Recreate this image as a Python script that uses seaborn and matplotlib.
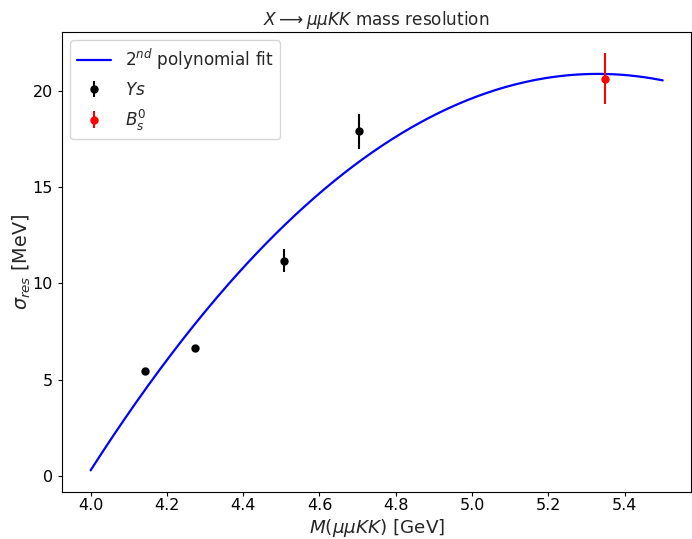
import numpy as np
import pandas as pd
import matplotlib
matplotlib.use("Agg")
import matplotlib.pyplot as plt
import seaborn as sns

# Data
ys_mass = [4.142, 4.273, 4.507, 4.705]
ys_sigma = [5.46, 6.63, 11.19, 17.90]
ys_err = [0.12, 0.2, 0.58, 0.92]

bs_mass = [5.350]
bs_sigma = [20.62]
bs_err = [1.33]

# 2nd order polynomial fit coefficients (highest power first)
fit_coeffs = [-11.63, 123.976, -309.52]
fit_range = [4.0, 5.5]

sns.set_style("ticks")
plt.rcParams["font.family"] = ["DejaVu Sans"]
plt.rcParams["mathtext.fontset"] = "dejavusans"

fig = plt.figure(figsize=(6.92, 5.39), dpi=100)
ax = fig.add_axes([0.0896, 0.0872, 0.9094, 0.8534])

xs = np.linspace(fit_range[0], fit_range[1], 300)
fit_df = pd.DataFrame({"x": xs, "y": np.polyval(fit_coeffs, xs)})
sns.lineplot(data=fit_df, x="x", y="y", ax=ax, color="blue", linewidth=1.6,
             label=r"2$^{nd}$ polynomial fit")

ax.errorbar(ys_mass, ys_sigma, yerr=ys_err, fmt="o", color="black",
            markersize=5, elinewidth=1.5, label=r"$Ys$")
ax.errorbar(bs_mass, bs_sigma, yerr=bs_err, fmt="o", color="red",
            markersize=5, elinewidth=1.5, label=r"$B_s^0$")

for s in ax.spines.values():
    s.set_color("black")
    s.set_linewidth(0.8)

ax.set_xlim(3.925, 5.575)
ax.set_ylim(-0.82, 23.05)
ax.set_xticks([4.0, 4.2, 4.4, 4.6, 4.8, 5.0, 5.2, 5.4])
ax.set_yticks([0, 5, 10, 15, 20])
ax.tick_params(labelsize=11.5, colors="black", length=3, width=0.8)
ax.tick_params(axis="x", pad=1.5)

ax.set_xlabel(r"$M(\mu\mu KK)$ [GeV]", fontsize=13.2, va="top")
ax.xaxis.set_label_coords(0.5, -0.0543)
ax.set_ylabel(r"$\sigma_{res}$ [MeV]", fontsize=13.8, labelpad=0)
ax.set_title(r"$X \longrightarrow \mu\mu KK$ mass resolution", fontsize=12.2, pad=5)

ax.legend(loc="upper left", fontsize=12.2, frameon=True)

fig.savefig("out.png", dpi=100)
